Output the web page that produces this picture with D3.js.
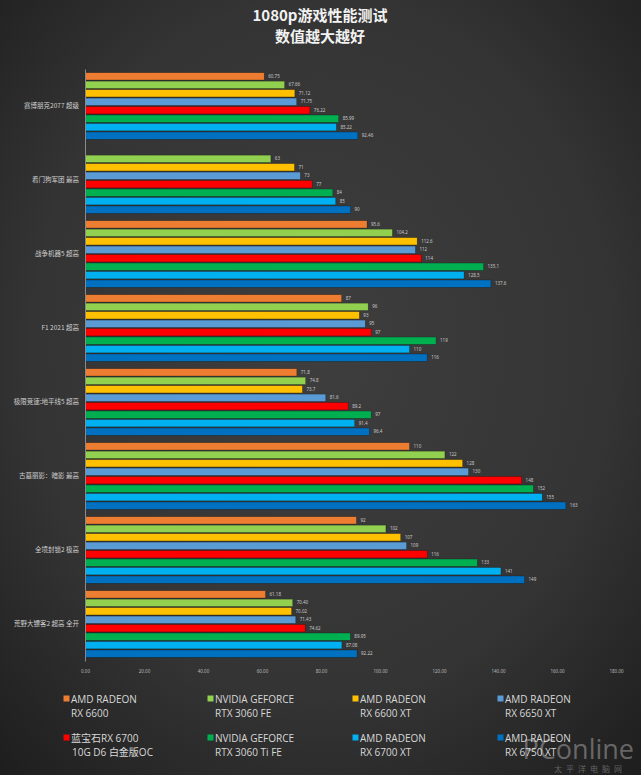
<!DOCTYPE html>
<html><head><meta charset="utf-8">
<script src="https://cdn.jsdelivr.net/npm/d3@7/dist/d3.min.js"></script>
<style>
html,body{margin:0;padding:0;background:#2a2a2a;}
svg{display:block;}
</style></head>
<body>
<script>
const titleLines = ["1080p游戏性能测试", "数值越大越好"];
const categories = ["赛博朋克2077 超级", "看门狗军团 最高", "战争机器5 超高", "F1 2021 超高", "极限竞速:地平线5 超高", "古墓丽影：暗影 最高", "全境封锁2 极高", "荒野大镖客2 超高 全开"];
const seriesNames = [["AMD RADEON","RX 6600"],["NVIDIA GEFORCE","RTX 3060 FE"],["AMD RADEON","RX 6600 XT"],["AMD RADEON","RX 6650 XT"],["蓝宝石RX 6700"," 10G D6 白金版OC"],["NVIDIA GEFORCE","RTX 3060 Ti FE"],["AMD RADEON","RX 6700 XT"],["AMD RADEON","RX 6750 XT"]];
const seriesColors = ["#ED7D31","#92D050","#FFC000","#5B9BD5","#FF0000","#00B050","#00B0F0","#0070C0"];
// values per series (index = category)
const rx6600    = ["60.75", null, "95.6", "87", "71.8", "110", "92", "61.18"];
const rtx3060   = ["67.66", "63", "104.2", "96", "74.8", "122", "102", "70.40"];
const rx6600xt  = ["71.12", "71", "112.6", "93", "73.7", "128", "107", "70.02"];
const rx6650xt  = ["71.75", "73", "112", "95", "81.6", "130", "109", "71.43"];
const rx6700    = ["76.22", "77", "114", "97", "89.2", "148", "116", "74.62"];
const rtx3060ti = ["85.99", "84", "135.1", "119", "97", "152", "133", "89.95"];
const rx6700xt  = ["85.22", "85", "128.5", "110", "91.4", "155", "141", "87.08"];
const rx6750xt  = ["92.46", "90", "137.6", "116", "96.4", "163", "149", "92.22"];
const seriesValues = [rx6600, rtx3060, rx6600xt, rx6650xt, rx6700, rtx3060ti, rx6700xt, rx6750xt];
const xTicks = [0,20,40,60,80,100,120,140,160,180];

const W = 641, H = 775;
const svg = d3.select("body").append("svg").attr("width", W).attr("height", H);
const defs = svg.append("defs");
const rg = defs.append("radialGradient").attr("id","bg").attr("cx","50%").attr("cy","45%").attr("r","75%");
rg.append("stop").attr("offset","0%").attr("stop-color","#3e3e3e");
rg.append("stop").attr("offset","60%").attr("stop-color","#343434");
rg.append("stop").attr("offset","100%").attr("stop-color","#1d1d1d");
svg.append("rect").attr("width",W).attr("height",H).attr("fill","url(#bg)");

// title
svg.selectAll("text.title").data(titleLines).join("text")
  .attr("class","title")
  .attr("x", 320).attr("y", (d,i)=> 21 + i*21)
  .attr("text-anchor","middle")
  .attr("font-family","'Noto Sans CJK SC','Noto Sans',sans-serif")
  .attr("font-weight","bold").attr("font-size", 15)
  .attr("fill","#f2f2f2").text(d=>d);

const x = d3.scaleLinear().domain([0,180]).range([85, 616]);
const y = d3.scaleBand().domain(categories).range([69, 661]).paddingInner(0.1).paddingOuter(0.05);
const ys = d3.scaleBand().domain(d3.range(seriesValues.length)).range([0, y.bandwidth()]).paddingInner(0.14);

const g = svg.append("g");
categories.forEach((cat, ci) => {
  const gg = g.append("g").attr("transform", `translate(0,${y(cat)})`);
  const rows = seriesValues.map((arr, si) => ({si, v: arr[ci]})).filter(d => d.v !== null);
  gg.selectAll("rect").data(rows).join("rect")
    .attr("x", x(0)).attr("y", d => ys(d.si))
    .attr("width", d => x(+d.v) - x(0)).attr("height", ys.bandwidth())
    .attr("fill", d => seriesColors[d.si])
    .attr("stroke","rgba(0,0,0,0.35)").attr("stroke-width",0.6);
  gg.selectAll("text").data(rows).join("text")
    .attr("x", d => x(+d.v) + 4).attr("y", d => ys(d.si) + ys.bandwidth()/2 + 1.6)
    .attr("font-family","'Noto Sans',sans-serif").attr("font-size", 4.5)
    .attr("fill","#c8c8c8").text(d => d.v);
});

// category axis
const yAxis = svg.append("g").attr("transform",`translate(${x(0)},0)`)
  .call(d3.axisLeft(y).tickSize(0).tickPadding(6));
yAxis.select(".domain").attr("stroke","#8a8a8a").attr("stroke-width",1);
yAxis.selectAll("text").attr("fill","#cfcfcf").attr("font-size",6.5)
  .attr("font-family","'Noto Sans CJK SC','Noto Sans',sans-serif");

// value axis
const xAxis = svg.append("g").attr("transform",`translate(0,${667})`)
  .call(d3.axisBottom(x).tickValues(xTicks).tickSize(0).tickFormat(d3.format(".2f")));
xAxis.select(".domain").remove();
xAxis.selectAll("text").attr("fill","#b8b8b8").attr("font-size",4.5)
  .attr("font-family","'Noto Sans',sans-serif");

// legend
const legCols = [64, 208, 353, 498];
const legRows = [702.5, 741.5];
const leg = svg.append("g");
seriesNames.forEach((nm, i) => {
  const lx = legCols[i % 4], ly = legRows[Math.floor(i / 4)];
  const lg = leg.append("g");
  lg.append("rect").attr("x", lx - 0.5).attr("y", ly - 7).attr("width", 6).attr("height", 6).attr("fill", seriesColors[i]);
  lg.selectAll("text").data(nm).join("text")
    .attr("x", (d,k) => lx + 7 + (k===1 && i===4 ? 1 : 0))
    .attr("y", (d,k) => ly + k*14.5)
    .attr("font-family","'Open Sans','Noto Sans CJK SC',sans-serif")
    .attr("font-size", 10).attr("fill","#d8d8d8")
    .text(d => d.trim());
});

// watermark
svg.append("text").attr("x", 634).attr("y", 759).attr("text-anchor","end")
  .attr("font-family","'Open Sans',sans-serif").attr("font-size", 27)
  .attr("fill","rgba(255,255,255,0.33)").text("PConline");
svg.append("text").attr("x", 626).attr("y", 772).attr("text-anchor","end")
  .attr("font-family","'Noto Sans CJK SC',sans-serif").attr("font-size", 8)
  .attr("letter-spacing", 4)
  .attr("fill","rgba(255,255,255,0.3)").text("太平洋电脑网");
</script>
</body></html>
